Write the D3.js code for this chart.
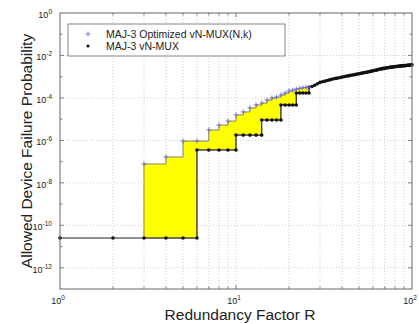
<!DOCTYPE html>
<html>
<head>
<meta charset="utf-8">
<script src="https://cdn.jsdelivr.net/npm/d3@7"></script>
<style>
  body { margin: 0; background: #fff; }
  text { font-family: "Liberation Sans", Arial, sans-serif; fill: #222; }
</style>
</head>
<body>
<svg id="chart" width="419" height="324"></svg>
<script>
// MAJ-3 vN-MUX : stair part (R, log10 p) -- duplicated R where the step jumps
const muxR = [1, 2, 3, 4, 5, 6,
  6, 7, 8, 9, 10,
  10, 11, 12, 13, 14,
  14, 15, 16, 17, 18,
  18, 19, 20, 21, 22,
  22, 23, 24, 25, 26];
const muxLogP = [-10.6, -10.6, -10.6, -10.6, -10.6, -10.6,
  -6.45, -6.45, -6.45, -6.45, -6.45,
  -5.75, -5.75, -5.75, -5.75, -5.75,
  -5.04, -5.04, -5.04, -5.04, -5.04,
  -4.33, -4.33, -4.33, -4.33, -4.33,
  -3.77, -3.77, -3.77, -3.77, -3.77];

// MAJ-3 vN-MUX : dense tail, R = 26 .. 100
const tailR = d3.range(26, 101);
const tailLogP = [-3.50, -3.46, -3.40, -3.33, -3.27, -3.24, -3.21, -3.18, -3.15, -3.12,
  -3.10, -3.08, -3.06, -3.04, -3.02, -3.00, -2.98, -2.97, -2.95, -2.93,
  -2.92, -2.91, -2.89, -2.87, -2.86, -2.85, -2.83, -2.82, -2.80, -2.79,
  -2.78, -2.77, -2.75, -2.74, -2.72, -2.71, -2.70, -2.68, -2.67, -2.65,
  -2.64, -2.63, -2.62, -2.61, -2.60, -2.59, -2.58, -2.58, -2.57, -2.56,
  -2.55, -2.55, -2.54, -2.53, -2.53, -2.52, -2.52, -2.51, -2.51, -2.50,
  -2.50, -2.49, -2.49, -2.48, -2.48, -2.48, -2.47, -2.47, -2.46, -2.46,
  -2.46, -2.45, -2.45, -2.44, -2.44];

// MAJ-3 Optimized vN-MUX(N,k)
const optR = [3, 4, 5, 6, 7, 8, 9, 10, 11, 12, 13, 14, 15, 16, 17, 18, 19, 20, 21, 22, 23, 24, 25, 26];
const optLogP = [-7.11, -6.78, -6.03, -6.03, -5.51, -5.28, -5.09, -4.80, -4.66, -4.47, -4.33, -4.24,
  -4.10, -4.00, -3.96, -3.86, -3.77, -3.67, -3.63, -3.58, -3.55, -3.52, -3.50, -3.50];

const xTickExp = [0, 1, 2];
const yTickExp = [0, -2, -4, -6, -8, -10, -12];
const legendLabels = ["MAJ-3 Optimized vN-MUX(N,k)", "MAJ-3 vN-MUX"];

const margin = {top: 13, right: 7, bottom: 35, left: 60};
const width = 419 - margin.left - margin.right;
const height = 324 - margin.top - margin.bottom;

const x = d3.scaleLog().domain([1, 100]).range([0, width]);
const y = d3.scaleLog().domain([1e-13, 1]).range([height, 0]);
const pw = e => Math.pow(10, e);

const svg = d3.select("#chart");
const main = svg.append("g")
  .attr("transform", "translate(" + margin.left + "," + margin.top + ")");

// grid
const xMinor = [];
[1, 10].forEach(d => { for (let k = 2; k <= 9; k++) xMinor.push(d * k); });
xMinor.push(10);
main.append("g").selectAll("line").data(xMinor).enter()
  .append("line")
  .attr("x1", d => x(d)).attr("x2", d => x(d))
  .attr("y1", 0).attr("y2", height)
  .attr("stroke", "#aaa").attr("stroke-width", 0.6).attr("stroke-dasharray", "1,2");
main.append("g").selectAll("line").data(yTickExp.filter(e => e < 0)).enter()
  .append("line")
  .attr("x1", 0).attr("x2", width)
  .attr("y1", d => y(pw(d))).attr("y2", d => y(pw(d)))
  .attr("stroke", "#aaa").attr("stroke-width", 0.6).attr("stroke-dasharray", "1,2");

// yellow region between optimized (upper, stepped) and vN-MUX stair (lower)
const poly = [];
for (let i = 0; i < optR.length; i++) {
  poly.push([optR[i], optLogP[i]]);
  if (i < optR.length - 1) poly.push([optR[i + 1], optLogP[i]]);
}
const lower = [];
muxR.forEach((r, i) => { if (r >= 3) lower.push([r, muxLogP[i]]); });
lower.reverse().forEach(p => poly.push(p));

main.append("path")
  .attr("d", d3.line().x(d => x(d[0])).y(d => y(pw(d[1])))(poly) + "Z")
  .attr("fill", "#ffff00")
  .attr("stroke", "#555")
  .attr("stroke-width", 0.7);

// vN-MUX line + dots
const mux = muxR.map((r, i) => [r, muxLogP[i]]).concat(tailR.map((r, i) => [r, tailLogP[i]]));
main.append("path")
  .attr("d", d3.line().x(d => x(d[0])).y(d => y(pw(d[1])))(mux))
  .attr("fill", "none").attr("stroke", "#222").attr("stroke-width", 1);
main.append("g").selectAll("circle").data(mux).enter()
  .append("circle")
  .attr("cx", d => x(d[0])).attr("cy", d => y(pw(d[1])))
  .attr("r", 1.8).attr("fill", "#111");

// optimized '+' markers
const plus = main.append("g").attr("stroke", "#6a6ad8").attr("stroke-width", 0.9);
optR.forEach((r, i) => {
  const cx = x(r), cy = y(pw(optLogP[i]));
  plus.append("line").attr("x1", cx - 2.5).attr("x2", cx + 2.5).attr("y1", cy).attr("y2", cy);
  plus.append("line").attr("x1", cx).attr("x2", cx).attr("y1", cy - 2.5).attr("y2", cy + 2.5);
});

// frame + ticks
main.append("rect").attr("width", width).attr("height", height)
  .attr("fill", "none").attr("stroke", "#666").attr("stroke-width", 1);
const tk = main.append("g").attr("stroke", "#666").attr("stroke-width", 0.8);
xMinor.forEach(v => {
  const len = (v === 10) ? 4 : 2.5;
  tk.append("line").attr("x1", x(v)).attr("x2", x(v)).attr("y1", height).attr("y2", height - len);
  tk.append("line").attr("x1", x(v)).attr("x2", x(v)).attr("y1", 0).attr("y2", len);
});
d3.range(-12, 0).forEach(e => {
  const len = (e % 2 === 0) ? 4 : 2.5;
  tk.append("line").attr("x1", 0).attr("x2", len).attr("y1", y(pw(e))).attr("y2", y(pw(e)));
  tk.append("line").attr("x1", width).attr("x2", width - len).attr("y1", y(pw(e))).attr("y2", y(pw(e)));
});

// tick labels "10^e"
function powLabel(g, tx, ty, e, anchor) {
  const t = g.append("text").attr("x", tx).attr("y", ty)
    .attr("text-anchor", anchor).style("font-size", "9px");
  t.append("tspan").text("10");
  t.append("tspan").attr("dy", -4).style("font-size", "6.5px").text(e);
}
yTickExp.forEach(e => powLabel(main, -8, y(pw(e)) + 5, e, "end"));
xTickExp.forEach(e => powLabel(main, x(pw(e)) - 2, height + 15, e, "middle"));

// axis titles
svg.append("text")
  .attr("x", margin.left + width / 2 + 4).attr("y", 320)
  .attr("text-anchor", "middle").style("font-size", "15.5px")
  .text("Redundancy Factor R");
svg.append("text")
  .attr("transform", "translate(32," + (margin.top + height / 2) + ") rotate(-90)")
  .attr("text-anchor", "middle").style("font-size", "15.5px")
  .text("Allowed Device Failure Probability");

// legend
const lg = svg.append("g");
lg.append("rect").attr("x", 68).attr("y", 24).attr("width", 217).attr("height", 32)
  .attr("fill", "#fff").attr("stroke", "#666").attr("stroke-width", 0.8);
lg.append("line").attr("x1", 85.5).attr("x2", 90.5).attr("y1", 34).attr("y2", 34)
  .attr("stroke", "#6a6ad8").attr("stroke-width", 0.9);
lg.append("line").attr("x1", 88).attr("x2", 88).attr("y1", 31.5).attr("y2", 36.5)
  .attr("stroke", "#6a6ad8").attr("stroke-width", 0.9);
lg.append("circle").attr("cx", 88).attr("cy", 46).attr("r", 1.6).attr("fill", "#111");
legendLabels.forEach((s, i) => {
  lg.append("text").attr("x", 106).attr("y", 37.8 + i * 12.5)
    .style("font-size", "10.5px").text(s);
});
</script>
</body>
</html>
